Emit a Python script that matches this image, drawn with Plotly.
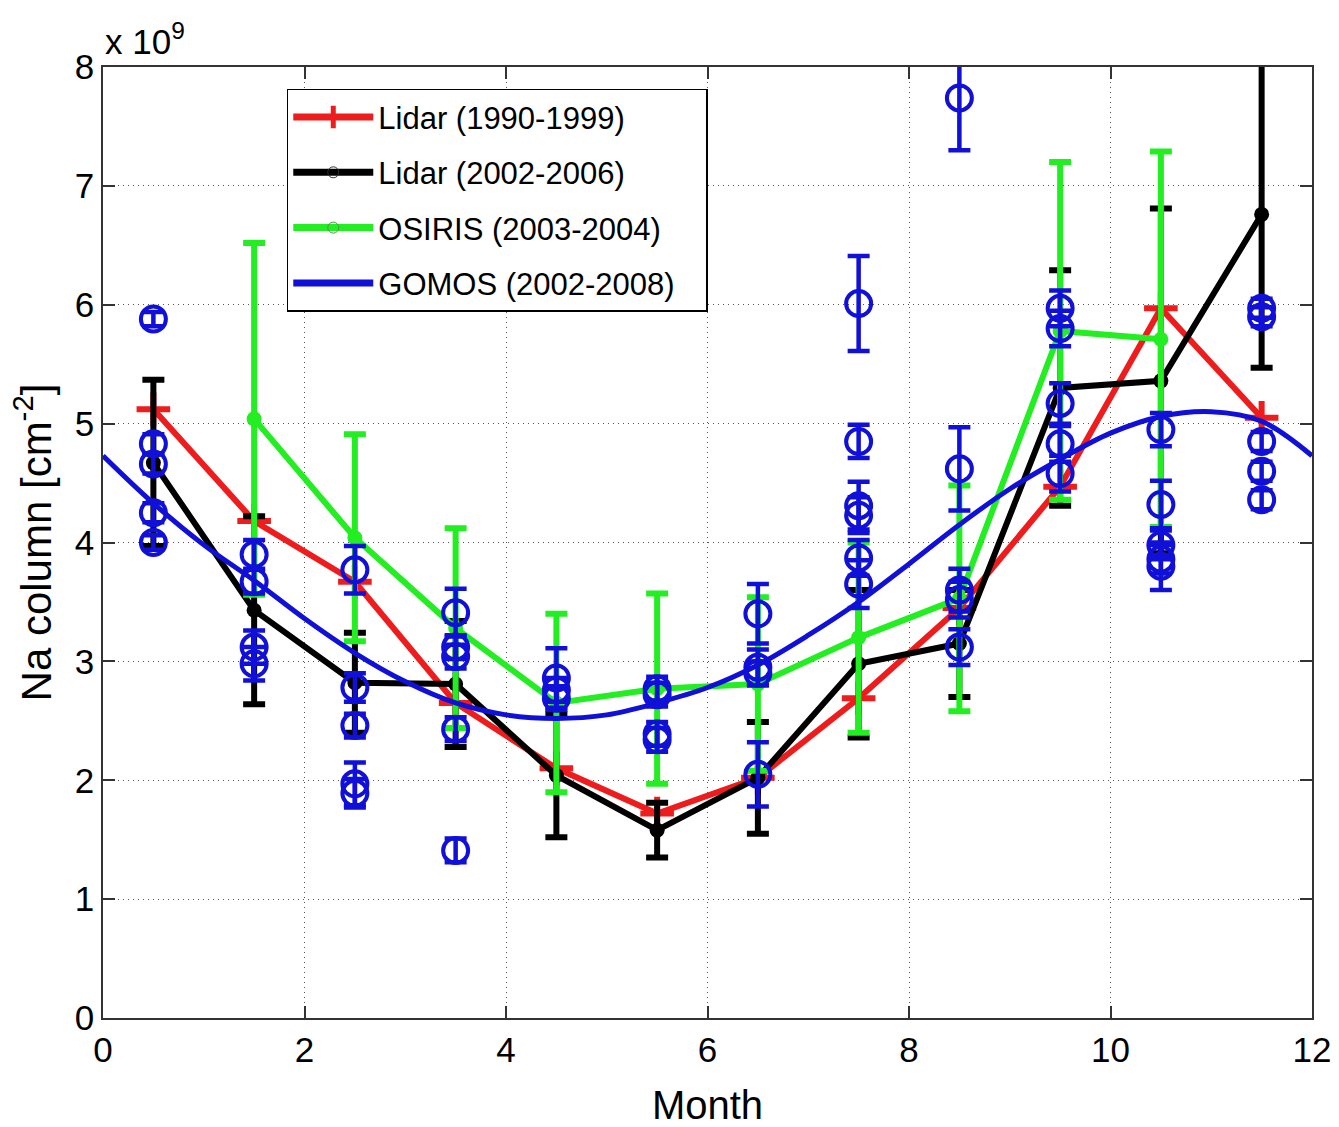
import plotly.graph_objects as go

# ---------------- data (values in units of 1e9 cm^-2) ----------------
months = [0.5, 1.5, 2.5, 3.5, 4.5, 5.5, 6.5, 7.5, 8.5, 9.5, 10.5, 11.5]

lidar90_vals = [5.12, 4.18, 3.67, 2.65, 2.10, 1.72, 2.02, 2.69, 3.45, 4.47, 5.97, 5.05]

lidar02_vals = [4.67, 3.43, 2.82, 2.81, 2.04, 1.58, 2.02, 2.98, 3.15, 5.30, 5.36, 6.76]
lidar02_err = [0.70, 0.79, 0.42, 0.53, 0.52, 0.23, 0.47, 0.62, 0.45, 0.99, 1.45, 1.29]

osiris_months = [1.5, 2.5, 3.5, 4.5, 5.5, 6.5, 7.5, 8.5, 9.5, 10.5]
osiris_vals = [5.04, 4.04, 3.28, 2.65, 2.77, 2.81, 3.20, 3.53, 5.78, 5.71]
osiris_err = [1.48, 0.87, 0.84, 0.75, 0.80, 0.73, 0.80, 0.95, 1.42, 1.58]

gomos_months = [0.5] * 5 + [1.5] * 4 + [2.5] * 5 + [3.5] * 5 + [4.5] * 3 + [5.5] * 4 \
    + [6.5] * 4 + [7.5] * 6 + [8.5] * 5 + [9.5] * 5 + [10.5] * 5 + [11.5] * 5
gomos_vals = [5.88, 4.83, 4.66, 4.25, 4.00,
              3.90, 3.67, 3.12, 2.98,
              3.77, 2.78, 2.46, 1.97, 1.89,
              3.41, 3.12, 3.04, 2.43, 1.41,
              2.86, 2.76, 2.69,
              2.77, 2.72, 2.39, 2.34,
              3.40, 2.95, 2.90, 2.05,
              6.01, 4.85, 4.31, 4.23, 3.87, 3.65,
              7.74, 4.62, 3.60, 3.52, 3.12,
              5.97, 5.80, 5.17, 4.83, 4.58,
              4.95, 4.32, 3.98, 3.86, 3.80,
              5.97, 5.90, 4.85, 4.60, 4.36]
gomos_err = [0.06, 0.08, 0.08, 0.08, 0.06,
             0.12, 0.10, 0.14, 0.14,
             0.20, 0.12, 0.10, 0.18, 0.12,
             0.20, 0.10, 0.10, 0.10, 0.10,
             0.25, 0.10, 0.10,
             0.10, 0.10, 0.10, 0.10,
             0.25, 0.15, 0.10, 0.27,
             0.40, 0.14, 0.20, 0.15, 0.15, 0.20,
             0.44, 0.35, 0.18, 0.15, 0.15,
             0.15, 0.15, 0.17, 0.15, 0.15,
             0.14, 0.20, 0.12, 0.12, 0.20,
             0.08, 0.08, 0.08, 0.08, 0.08]

fit_months = [0, 0.5, 1, 1.5, 2, 2.5, 3, 3.5, 4, 4.5, 5, 5.5, 6,
              6.5, 7, 7.5, 8, 8.5, 9, 9.5, 10, 10.5, 11, 11.5, 12]
fit_vals = [4.73, 4.33, 3.98, 3.68, 3.36, 3.07, 2.83, 2.65, 2.55, 2.52, 2.55, 2.65, 2.78,
            2.97, 3.22, 3.50, 3.82, 4.15, 4.45, 4.70, 4.92, 5.06, 5.10, 5.02, 4.73]

legend_names = ["Lidar (1990-1999)", "Lidar (2002-2006)", "OSIRIS (2003-2004)", "GOMOS (2002-2008)"]

# ---------------- styling ----------------
RED = "#ee1c1c"
BLACK = "#000000"
GREEN = "#22ee22"
BLUE = "#1010d8"
FONT = "Liberation Sans, Arial, sans-serif"

fig = go.Figure()

# red lidar
fig.add_trace(go.Scatter(
    x=months, y=lidar90_vals, mode="lines+markers",
    line=dict(color=RED, width=6),
    marker=dict(symbol="cross-thin", size=24, line=dict(color=RED, width=6)),
    showlegend=False))

# black lidar
fig.add_trace(go.Scatter(
    x=months, y=lidar02_vals, mode="lines+markers",
    line=dict(color=BLACK, width=6),
    marker=dict(symbol="circle", size=15, color=BLACK),
    error_y=dict(type="data", array=lidar02_err, visible=True, color=BLACK, thickness=6, width=11),
    showlegend=False))

# green osiris
fig.add_trace(go.Scatter(
    x=osiris_months, y=osiris_vals, mode="lines+markers",
    line=dict(color=GREEN, width=6),
    marker=dict(symbol="circle", size=15, color=GREEN),
    error_y=dict(type="data", array=osiris_err, visible=True, color=GREEN, thickness=6, width=11),
    showlegend=False))

# blue fit curve
fig.add_trace(go.Scatter(
    x=fit_months, y=fit_vals, mode="lines",
    line=dict(color=BLUE, width=5, shape="spline", smoothing=1.0),
    showlegend=False))

# blue gomos points
fig.add_trace(go.Scatter(
    x=gomos_months, y=gomos_vals, mode="markers",
    marker=dict(symbol="circle-open", size=25, color=BLUE, line=dict(color=BLUE, width=4)),
    error_y=dict(type="data", array=gomos_err, visible=True, color=BLUE, thickness=4.5, width=11),
    showlegend=False))

# legend entries
leg_styles = [
    dict(line=dict(color=RED, width=7), marker=dict(symbol="cross-thin", size=22, line=dict(color=RED, width=6)), mode="lines+markers"),
    dict(line=dict(color=BLACK, width=7), marker=dict(symbol="circle-open", size=11, color="#333333", line=dict(width=1)), mode="lines+markers"),
    dict(line=dict(color=GREEN, width=7), marker=dict(symbol="circle-open", size=11, color="#449944", line=dict(width=1)), mode="lines+markers"),
    dict(line=dict(color=BLUE, width=7), mode="lines"),
]
for i, (name, st) in enumerate(zip(legend_names, leg_styles)):
    fig.add_trace(go.Scatter(x=[None], y=[None], name=name + "\u00a0\u00a0\u00a0",
                             legendgroup=f"g{i}", showlegend=True, **st))

axis_common = dict(
    showline=True, linecolor="#333333", linewidth=1.5, mirror="ticks",
    ticks="inside", ticklen=12, tickwidth=1.5, tickcolor="#333333",
    showgrid=True, gridcolor="#555555", gridwidth=1, griddash="1px,4px",
    zeroline=False, tickfont=dict(family=FONT, size=35, color="black"),
    automargin=False,
)

fig.update_xaxes(range=[0, 12], tickvals=[0, 2, 4, 6, 8, 10, 12],
                 title=dict(text="Month", font=dict(family=FONT, size=40, color="black"), standoff=26),
                 **axis_common)
fig.update_yaxes(range=[0, 8], tickvals=[0, 1, 2, 3, 4, 5, 6, 7, 8],
                 title=dict(text="Na column [cm<sup>-2</sup>]", font=dict(family=FONT, size=42, color="black"), standoff=10),
                 **axis_common)

fig.add_annotation(xref="paper", yref="paper", x=0, y=1, xanchor="left", yanchor="bottom",
                   text="x 10<sup>9</sup>", showarrow=False, xshift=0, yshift=4,
                   font=dict(family=FONT, size=35, color="black"))

fig.update_layout(
    width=1339, height=1127,
    margin=dict(l=103, r=27, t=67, b=109),
    plot_bgcolor="white", paper_bgcolor="white",
    font=dict(family=FONT, color="black"),
    legend=dict(x=0.152, y=0.977, xanchor="left", yanchor="top",
                bgcolor="white", bordercolor="black", borderwidth=1.5,
                font=dict(family=FONT, size=31, color="black"),
                itemwidth=80, tracegroupgap=12, traceorder="grouped"),
)

fig.write_html("out.html")
